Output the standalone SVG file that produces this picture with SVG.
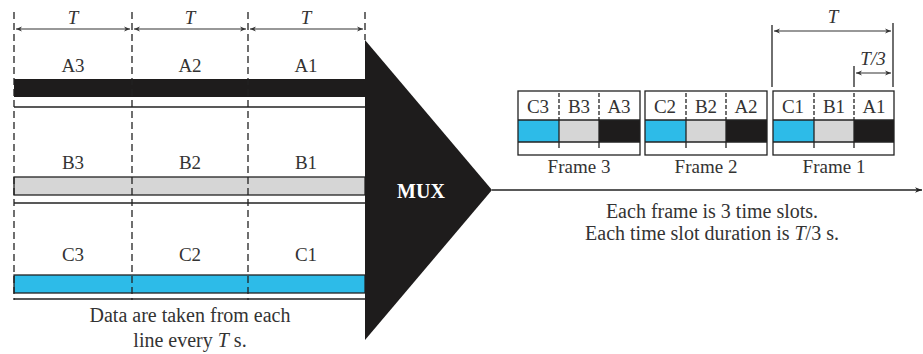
<svg xmlns="http://www.w3.org/2000/svg" width="923" height="354" viewBox="0 0 923 354">
<style>
text{font-family:"Liberation Serif","Times New Roman",serif;font-size:19px;fill:#333;text-anchor:middle}
.it{font-style:italic}
.note{font-size:20px}
.dash{stroke:#222;stroke-width:1.3;stroke-dasharray:7,4;fill:none}
.sdash{stroke:#222;stroke-width:1.3;stroke-dasharray:4,2;fill:none}
.ln{stroke:#222;stroke-width:1.3;fill:none}
.dim{stroke:#333;stroke-width:1.2;fill:none;marker-start:url(#ah);marker-end:url(#ah)}
.box{fill:none;stroke:#222;stroke-width:1.3}
</style>
<defs>
<marker id="ah" viewBox="0 0 10 10" refX="10" refY="5" markerWidth="10" markerHeight="6" orient="auto-start-reverse" markerUnits="userSpaceOnUse">
<path d="M0,1 L10,5 L0,9 L3,5 Z" fill="#333"/>
</marker>
<marker id="ah2" viewBox="0 0 10 10" refX="10" refY="5" markerWidth="8" markerHeight="7" orient="auto" markerUnits="userSpaceOnUse">
<path d="M0,1 L10,5 L0,9 L3,5 Z" fill="#222"/>
</marker>
</defs>

<g id="input-lines">
<rect x="14" y="79" width="351" height="18" fill="#1e1c1c"/>
<line class="ln" x1="14" y1="107" x2="365" y2="107"/>
<rect x="14" y="177" width="351" height="18" fill="#d6d6d6" stroke="#222" stroke-width="1.3"/>
<line class="ln" x1="14" y1="203" x2="365" y2="203"/>
<rect x="14" y="275" width="351" height="18" fill="#2dbbe8" stroke="#222" stroke-width="1.3"/>
<line class="ln" x1="14" y1="299" x2="365" y2="299"/>
<line class="dash" x1="14" y1="12" x2="14" y2="300"/>
<line class="dash" x1="132" y1="12" x2="132" y2="300"/>
<line class="dash" x1="248" y1="12" x2="248" y2="300"/>
<line class="dash" x1="365" y1="12" x2="365" y2="40"/>
<text x="73" y="72">A3</text>
<text x="190" y="72">A2</text>
<text x="306" y="72">A1</text>
<text x="73" y="169">B3</text>
<text x="190" y="169">B2</text>
<text x="306" y="169">B1</text>
<text x="73" y="261">C3</text>
<text x="190" y="261">C2</text>
<text x="306" y="261">C1</text>
</g>

<g id="period-dims">
<line class="dim" x1="16" y1="29" x2="130" y2="29"/>
<line class="dim" x1="134" y1="29" x2="246" y2="29"/>
<line class="dim" x1="250" y1="29" x2="363" y2="29"/>
<text class="it" x="73" y="24">T</text>
<text class="it" x="190" y="24">T</text>
<text class="it" x="306" y="24">T</text>
</g>

<g id="note-left">
<text class="note" x="190" y="322">Data are taken from each</text>
<text class="note" x="190" y="347">line every <tspan class="it">T</tspan> s.</text>
</g>

<g id="mux">
<polygon points="365,40 492,190 365,340" fill="#1e1c1c"/>
<text x="421" y="198" style="fill:#fff;font-weight:bold;font-size:20px">MUX</text>
</g>

<g id="connectors">
<line x1="492" y1="190" x2="922" y2="190" stroke="#222" stroke-width="1.3" marker-end="url(#ah2)"/>
</g>

<g id="frame3">
<rect x="518" y="120" width="41" height="22" fill="#2dbbe8"/>
<rect x="559" y="120" width="40" height="22" fill="#d6d6d6"/>
<rect x="599" y="120" width="41" height="22" fill="#1e1c1c"/>
<rect class="box" x="518" y="91" width="122" height="64"/>
<line class="ln" x1="518" y1="120" x2="640" y2="120"/>
<line class="ln" x1="518" y1="142" x2="640" y2="142"/>
<line class="sdash" x1="559" y1="93" x2="559" y2="120"/>
<line class="sdash" x1="599" y1="93" x2="599" y2="120"/>
<line class="ln" x1="559" y1="120" x2="559" y2="148"/>
<line class="ln" x1="599" y1="120" x2="599" y2="148"/>
<text x="538" y="113">C3</text><text x="579" y="113">B3</text><text x="619" y="113">A3</text>
<text x="579" y="173">Frame 3</text>
</g>

<g id="frame2">
<rect x="645" y="120" width="41" height="22" fill="#2dbbe8"/>
<rect x="686" y="120" width="40" height="22" fill="#d6d6d6"/>
<rect x="726" y="120" width="41" height="22" fill="#1e1c1c"/>
<rect class="box" x="645" y="91" width="122" height="64"/>
<line class="ln" x1="645" y1="120" x2="767" y2="120"/>
<line class="ln" x1="645" y1="142" x2="767" y2="142"/>
<line class="sdash" x1="686" y1="93" x2="686" y2="120"/>
<line class="sdash" x1="726" y1="93" x2="726" y2="120"/>
<line class="ln" x1="686" y1="120" x2="686" y2="148"/>
<line class="ln" x1="726" y1="120" x2="726" y2="148"/>
<text x="665" y="113">C2</text><text x="706" y="113">B2</text><text x="746" y="113">A2</text>
<text x="706" y="173">Frame 2</text>
</g>

<g id="frame1">
<rect x="773" y="120" width="41" height="22" fill="#2dbbe8"/>
<rect x="814" y="120" width="40" height="22" fill="#d6d6d6"/>
<rect x="854" y="120" width="40" height="22" fill="#1e1c1c"/>
<rect class="box" x="773" y="91" width="121" height="64"/>
<line class="ln" x1="773" y1="120" x2="894" y2="120"/>
<line class="ln" x1="773" y1="142" x2="894" y2="142"/>
<line class="sdash" x1="814" y1="93" x2="814" y2="120"/>
<line class="sdash" x1="854" y1="93" x2="854" y2="120"/>
<line class="ln" x1="814" y1="120" x2="814" y2="148"/>
<line class="ln" x1="854" y1="120" x2="854" y2="148"/>
<text x="793" y="113">C1</text><text x="834" y="113">B1</text><text x="874" y="113">A1</text>
<text x="834" y="173">Frame 1</text>
</g>

<g id="frame-dims">
<line class="ln" x1="772" y1="25" x2="772" y2="87"/>
<line class="ln" x1="893" y1="23" x2="893" y2="87"/>
<line class="ln" x1="854" y1="66" x2="854" y2="87"/>
<line class="dim" x1="774" y1="31" x2="891" y2="31"/>
<line class="dim" x1="856" y1="73" x2="891" y2="73"/>
<text class="it" x="833" y="23">T</text>
<text class="it" x="873" y="65">T/3</text>
</g>

<g id="note-right">
<text class="note" x="712" y="218">Each frame is 3 time slots.</text>
<text class="note" x="712" y="240">Each time slot duration is <tspan class="it">T</tspan>/3 s.</text>
</g>
</svg>
